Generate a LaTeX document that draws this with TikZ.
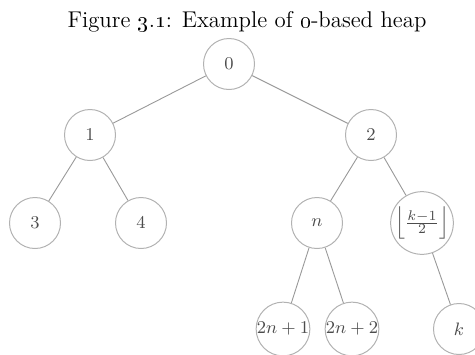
\documentclass[tikz,border=0pt]{standalone}
\usepackage{amsmath}
\begin{document}
\begin{tikzpicture}[x=0.5pt,y=-0.5pt,
  hnode/.style={circle,draw=black!30,line width=0.5pt,minimum size=25.5pt,inner sep=0pt,text=black!70,font=\fontsize{9.5}{11}\selectfont},
  hedge/.style={draw=black!40,line width=0.45pt}]
\useasboundingbox (0,0) rectangle (475,354);
\node[font=\fontsize{11.4}{14}\selectfont] (title) at (247,22) {Figure \oldstylenums{3}.\oldstylenums{1}: Example of \oldstylenums{0}-based heap};
\node[hnode] (r) at (229,64) {$0$};
\node[hnode] (a) at (90,135) {$1$};
\node[hnode] (b) at (371,135) {$2$};
\node[hnode] (c) at (35,223) {$3$};
\node[hnode] (d) at (141,223) {$4$};
\node[hnode] (n) at (317,223) {$n$};
\node[hnode] (f) at (422,223) {$\left\lfloor\frac{k-1}{2}\right\rfloor$};
\node[hnode] (n1) at (283,329) {$2n+1$};
\node[hnode] (n2) at (352,329) {$2n+2$};
\node[hnode] (k) at (459,329) {$k$};
\draw[hedge] (r) -- (a);
\draw[hedge] (r) -- (b);
\draw[hedge] (a) -- (c);
\draw[hedge] (a) -- (d);
\draw[hedge] (b) -- (n);
\draw[hedge] (b) -- (f);
\draw[hedge] (n) -- (n1);
\draw[hedge] (n) -- (n2);
\draw[hedge] (f) -- (k);
\end{tikzpicture}
\end{document}
